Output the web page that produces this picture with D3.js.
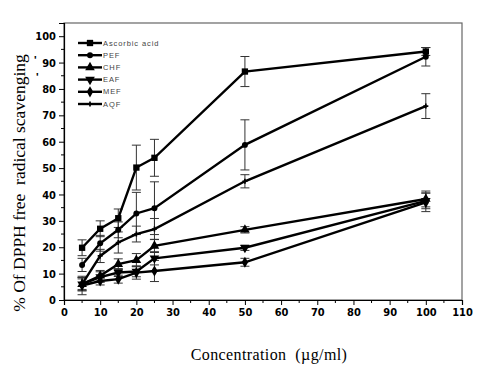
<!DOCTYPE html>
<html><head><meta charset="utf-8">
<script src="https://cdn.jsdelivr.net/npm/d3@7"></script>
<style>body{margin:0;background:#fff}svg{display:block}</style>
</head><body>
<svg id="c" width="490" height="376"></svg>
<script>
const concentrations = [5, 10, 15, 20, 25, 50, 100];
const seriesNames = ["Ascorbic acid", "PEF", "CHF", "EAF", "MEF", "AQF"];
const ascorbic = [19.8, 27.0, 31.0, 50.2, 53.9, 86.6, 94.2];
const ascorbicErr = [3, 3, 3.5, 8.5, 7, 5.7, 1.5];
const pef = [13.3, 21.5, 26.6, 32.8, 34.8, 58.8, 92.2];
const pefErr = [2.5, 3, 3, 8, 10, 9.5, 3.5];
const chf = [6.0, 9.2, 13.6, 15.1, 20.5, 26.6, 38.3];
const chfErr = [2.5, 2, 2, 2.5, 2.5, 1.2, 3];
const eaf = [6.0, 8.7, 10.4, 10.8, 15.8, 19.8, 37.6];
const eafErr = [2, 2, 1.5, 2, 2.5, 1, 3];
const mef = [5.5, 7.2, 7.9, 10.4, 11.0, 14.3, 37.0];
const mefErr = [3.5, 1.5, 1.5, 2.5, 4, 1.5, 3.5];
const aqf = [6.0, 16.7, 21.8, 25.0, 26.9, 45.0, 73.5];
const aqfErr = [2.5, 2.5, 4, 3, 4, 2.5, 4.7];
const xTicks = [0,10,20,30,40,50,60,70,80,90,100,110];
const yTicks = [0,10,20,30,40,50,60,70,80,90,100];

const series = [
  {name: seriesNames[0], v: ascorbic, e: ascorbicErr, sym: d3.symbolSquare, size: 40},
  {name: seriesNames[1], v: pef, e: pefErr, sym: d3.symbolCircle, size: 28},
  {name: seriesNames[2], v: chf, e: chfErr, sym: d3.symbolTriangle, size: 40},
  {name: seriesNames[3], v: eaf, e: eafErr, sym: "down", size: 40},
  {name: seriesNames[4], v: mef, e: mefErr, sym: d3.symbolDiamond, size: 36},
  {name: seriesNames[5], v: aqf, e: aqfErr, sym: d3.symbolCross, size: 14}
];

const svg = d3.select("#c");
const L = 64, R = 462, T = 23, B = 300;
const x = d3.scaleLinear().domain([0, 110]).range([L, R]);
const y = d3.scaleLinear().domain([0, 105]).range([B, T]);

// frame
svg.append("rect").attr("x", L).attr("y", T).attr("width", R - L).attr("height", B - T)
  .attr("fill", "none").attr("stroke", "#666").attr("stroke-width", 1.2);

// axes
const xAx = svg.append("g").attr("transform", `translate(0,${B})`)
  .call(d3.axisBottom(x).tickValues(xTicks).tickSize(5).tickPadding(3).tickFormat(d3.format("d")));
xAx.append("g").selectAll("line").data(d3.range(5, 110, 10)).join("line")
  .attr("x1", d => x(d)).attr("x2", d => x(d)).attr("y1", 0).attr("y2", 3).attr("stroke", "#000");
const yAx = svg.append("g").attr("transform", `translate(${L},0)`)
  .call(d3.axisLeft(y).tickValues(yTicks).tickSize(5).tickPadding(3).tickFormat(d3.format("d")));
yAx.append("g").selectAll("line").data(d3.range(5, 105, 10)).join("line")
  .attr("y1", d => y(d)).attr("y2", d => y(d)).attr("x1", 0).attr("x2", -3).attr("stroke", "#000");
[xAx, yAx].forEach(g => {
  g.select(".domain").attr("stroke", "#000").attr("stroke-width", 1.2);
  g.selectAll(".tick text").attr("font-family", "'Liberation Sans Narrow', 'DejaVu Sans Condensed', sans-serif")
    .attr("font-weight", "bold").attr("font-size", 11).attr("fill", "#000");
});

// stray marks near y axis
svg.append("text").attr("x", 34).attr("y", 64).attr("font-size", 11).attr("font-weight", "bold")
  .attr("font-family", "'Liberation Sans', sans-serif").text("'");
svg.append("text").attr("x", 36).attr("y", 81).attr("font-size", 11).attr("font-weight", "bold")
  .attr("font-family", "'Liberation Sans', sans-serif").text("'");

// axis titles
svg.append("text").attr("transform", "translate(25,183) rotate(-90)").attr("text-anchor", "middle")
  .attr("font-family", "'Liberation Serif', 'Times New Roman', serif").attr("font-size", 17.5)
  .style("white-space", "pre")
  .text("% Of DPPH free  radical scavenging");
svg.append("text").attr("x", 269).attr("y", 360).attr("text-anchor", "middle")
  .attr("font-family", "'Liberation Serif', 'Times New Roman', serif").attr("font-size", 16)
  .attr("letter-spacing", 0.4)
  .style("white-space", "pre").text("Concentration  (\u00b5g/ml)");

function symPath(s) {
  if (s.sym === "down") return d3.symbol(d3.symbolTriangle, s.size)();
  return d3.symbol(s.sym, s.size)();
}

const line = d3.line().x(d => x(d[0])).y(d => y(d[1]));
// error bars
series.forEach(s => {
  const g = svg.append("g");
  concentrations.forEach((c, i) => {
    const cx = x(c), lo = y(s.v[i] - s.e[i]), hi = y(s.v[i] + s.e[i]);
    g.append("line").attr("x1", cx).attr("x2", cx).attr("y1", lo).attr("y2", hi).attr("stroke", "#333").attr("stroke-width", 1);
    [lo, hi].forEach(yy => g.append("line").attr("x1", cx - 4.5).attr("x2", cx + 4.5).attr("y1", yy).attr("y2", yy)
      .attr("stroke", "#333").attr("stroke-width", 1));
  });
});
// lines + markers
series.forEach(s => {
  const pts = concentrations.map((c, i) => [c, s.v[i]]);
  svg.append("path").attr("d", line(pts)).attr("fill", "none").attr("stroke", "#000").attr("stroke-width", 2.4);
  svg.append("g").selectAll("path").data(pts).join("path")
    .attr("d", symPath(s))
    .attr("transform", d => `translate(${x(d[0])},${y(d[1])})` + (s.sym === "down" ? " rotate(180)" : ""))
    .attr("fill", "#000");
});

// legend
const lg = svg.append("g");
series.forEach((s, i) => {
  const yy = 43 + i * 12.2;
  lg.append("line").attr("x1", 78).attr("x2", 102).attr("y1", yy).attr("y2", yy).attr("stroke", "#000").attr("stroke-width", 2.4);
  lg.append("path").attr("d", symPath(s))
    .attr("transform", `translate(90,${yy})` + (s.sym === "down" ? " rotate(180)" : "")).attr("fill", "#000");
  lg.append("text").attr("x", 103).attr("y", yy + 2.5).attr("font-family", "'Liberation Sans', Arial, sans-serif")
    .attr("font-size", 7.5).attr("letter-spacing", 0.9).attr("fill", "#444").text(s.name);
});
</script>
</body></html>
